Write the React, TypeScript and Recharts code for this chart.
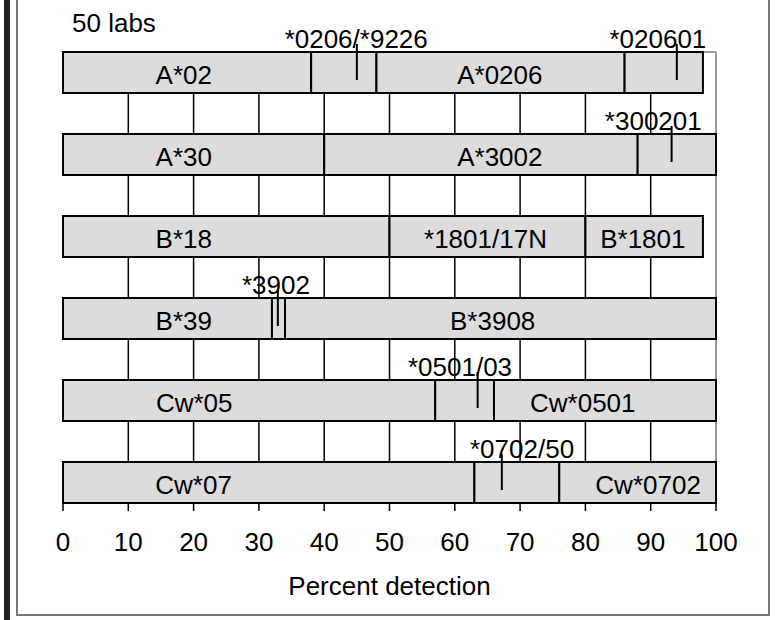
import React from 'react';
import { ComposedChart, Bar, XAxis, YAxis, CartesianGrid } from 'recharts';

// rows (allele groups), top to bottom
const ROWS = ['A*02', 'A*30', 'B*18', 'B*39', 'Cw*05', 'Cw*07'];

// stacked segment widths, percent detection
const SEG1 = [38, 40, 50, 32, 57, 63];
const SEG2 = [10, 48, 30, 2, 9, 13];
const SEG3 = [38, 12, 18, 66, 34, 24];
const SEG4 = [12, 0, 0, 0, 0, 0];

// text written inside each segment
const TEXT1 = ['A*02', 'A*30', 'B*18', 'B*39', 'Cw*05', 'Cw*07'];
const TEXT2 = ['', 'A*3002', '*1801/17N', '', '', ''];
const TEXT3 = ['A*0206', '', 'B*1801', 'B*3908', 'Cw*0501', 'Cw*0702'];
const TEXT4 = ['', '', '', '', '', ''];

// where that text is centred, in percent
const TEXT_AT1 = [18.5, 18.5, 18.5, 18.5, 20.1, 20.0];
const TEXT_AT2 = [0, 66.9, 64.7, 0, 0, 0];
const TEXT_AT3 = [66.9, 0, 88.8, 65.8, 79.6, 89.6];
const TEXT_AT4 = [0, 0, 0, 0, 0, 0];

// sub-allele markers drawn as ticks above the bars
const MARK_ROW = ['A*02', 'A*02', 'A*30', 'B*39', 'Cw*05', 'Cw*07'];
const MARK_AT = [45, 94, 93.2, 32.9, 63.5, 67.2];
const MARK_TEXT = ['*0206/*9226', '*020601', '*300201', '*3902', '*0501/03', '*0702/50'];
const MARK_TEXT_AT = [44.9, 91.1, 90.4, 32.6, 60.8, 70.3];

const X_TICKS = [0, 10, 20, 30, 40, 50, 60, 70, 80, 90, 100];
const GRID_AT = [10, 20, 30, 40, 50, 60, 70, 80, 90];

const SEGMENTS = [SEG1, SEG2, SEG3, SEG4];
const TEXTS = [TEXT1, TEXT2, TEXT3, TEXT4];
const TEXT_ATS = [TEXT_AT1, TEXT_AT2, TEXT_AT3, TEXT_AT4];

const data = ROWS.map((row, i) => ({
  row,
  s1: SEG1[i],
  s2: SEG2[i],
  s3: SEG3[i],
  s4: SEG4[i],
}));

const FONT = '"Liberation Sans", Arial, sans-serif';
const FS = 26;

// draws one segment, plus its text and any marker falling inside it
const makeSegment = (k: number) => (props: any) => {
  const { x, y, width, height, index } = props;
  const value = SEGMENTS[k][index];
  if (!value || !(width > 0)) return <g />;
  const start = SEGMENTS.slice(0, k).reduce((s, seg) => s + seg[index], 0);
  const ppu = width / value;
  const px = (v: number) => x + (v - start) * ppu;
  const text = TEXTS[k][index];
  const marks = MARK_ROW.map((r, m) => m).filter(
    (m) => MARK_ROW[m] === ROWS[index] && MARK_AT[m] > start && MARK_AT[m] < start + value
  );
  return (
    <g>
      <rect x={x} y={y} width={width} height={height} fill="#dcdcdc" stroke="#000" strokeWidth={2} />
      {text && (
        <text x={px(TEXT_ATS[k][index])} y={y + height / 2 + 11} textAnchor="middle" fontSize={FS} fontFamily={FONT} fill="#000">
          {text}
        </text>
      )}
      {marks.map((m) => (
        <g key={m}>
          <line x1={px(MARK_AT[m])} x2={px(MARK_AT[m])} y1={y - 8} y2={y + 28} stroke="#000" strokeWidth={2} />
          <text x={px(MARK_TEXT_AT[m])} y={y - 4} textAnchor="middle" fontSize={FS} fontFamily={FONT} fill="#000">
            {MARK_TEXT[m]}
          </text>
        </g>
      ))}
    </g>
  );
};

export default function App() {
  return (
    <div style={{ position: 'relative', width: 775, height: 620, background: '#fff', fontFamily: FONT, overflow: 'hidden' }}>
      <style>{'body{margin:0}'}</style>
      <div style={{ position: 'absolute', left: 4, top: 0, width: 6, height: 620, background: '#222' }} />
      <div style={{ position: 'absolute', left: 16, top: -4, width: 754, height: 620, boxSizing: 'border-box', border: '2px solid #777' }} />
      <div style={{ position: 'absolute', left: 72, top: 8, fontSize: FS, lineHeight: 'normal', color: '#000' }}>50 labs</div>
      <div style={{ position: 'absolute', left: 0, top: 0 }}>
        <ComposedChart
          width={775}
          height={620}
          data={data}
          layout="vertical"
          margin={{ top: 52, right: 59, bottom: 0, left: 63 }}
          barCategoryGap="25%"
        >
          <CartesianGrid
            horizontal={false}
            stroke="#000"
            strokeWidth={1.5}
            verticalCoordinatesGenerator={({ offset }: any) =>
              GRID_AT.map((v) => offset.left + (v / 100) * offset.width)
            }
          />
          <CartesianGrid
            stroke="#999"
            strokeWidth={2}
            horizontalCoordinatesGenerator={({ offset }: any) => [offset.top]}
            verticalCoordinatesGenerator={({ offset }: any) => [offset.left + offset.width]}
          />
          <XAxis
            type="number"
            domain={[0, 100]}
            ticks={X_TICKS}
            interval={0}
            height={117}
            tickSize={8}
            tickMargin={22}
            tick={{ fill: '#000', fontSize: FS, fontFamily: FONT }}
            tickLine={{ stroke: '#000', strokeWidth: 1.5 }}
            axisLine={{ stroke: '#000', strokeWidth: 2 }}
            label={{ value: 'Percent detection', position: 'insideBottom', offset: 25, fill: '#000', fontSize: FS, fontFamily: FONT }}
          />
          <YAxis
            type="category"
            dataKey="row"
            width={0}
            tick={false}
            tickLine={false}
            axisLine={{ stroke: '#000', strokeWidth: 2 }}
            padding={{ top: -20.5, bottom: -20.5 }}
          />
          <Bar dataKey="s1" stackId="a" isAnimationActive={false} shape={makeSegment(0)} />
          <Bar dataKey="s2" stackId="a" isAnimationActive={false} shape={makeSegment(1)} />
          <Bar dataKey="s3" stackId="a" isAnimationActive={false} shape={makeSegment(2)} />
          <Bar dataKey="s4" stackId="a" isAnimationActive={false} shape={makeSegment(3)} />
        </ComposedChart>
      </div>
    </div>
  );
}
